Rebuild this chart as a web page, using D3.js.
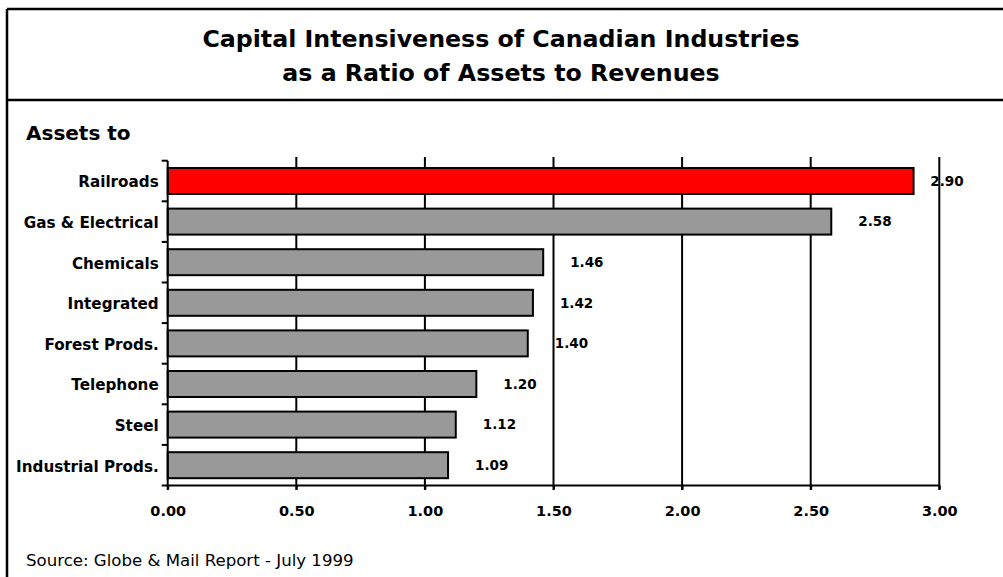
<!DOCTYPE html>
<html>
<head>
<meta charset="utf-8">
<script src="https://cdn.jsdelivr.net/npm/d3@7/dist/d3.min.js"></script>
<style>
  html, body { margin: 0; padding: 0; background: #fff; }
  svg { display: block; }
  text { font-family: Tahoma, "DejaVu Sans", sans-serif; fill: #000; }
</style>
</head>
<body>
<svg id="chart" width="1003" height="577"></svg>
<script>
// Assets-to-revenues ratio by industry (Globe & Mail, July 1999)
const industries = ["Railroads", "Gas & Electrical", "Chemicals", "Integrated",
                    "Forest Prods.", "Telephone", "Steel", "Industrial Prods."];
const ratios = [2.90, 2.58, 1.46, 1.42, 1.40, 1.20, 1.12, 1.09];
const highlight = ["Railroads"];
const xTicks = [0, 0.5, 1.0, 1.5, 2.0, 2.5, 3.0];
const titleLines = ["Capital Intensiveness of Canadian Industries",
                    "as a Ratio of Assets to Revenues"];
const axisCaption = "Assets to";
const sourceNote = "Source: Globe & Mail Report - July 1999";

const W = 1003, H = 577;
const svg = d3.select("#chart");

// frame and title box
const frame = svg.append("g").attr("stroke", "#000").attr("stroke-width", 2.5).attr("fill", "none");
frame.append("line").attr("x1", 7).attr("y1", 9).attr("x2", 7).attr("y2", H);
frame.append("line").attr("x1", 7).attr("y1", 9).attr("x2", W).attr("y2", 9);
frame.append("line").attr("x1", 7).attr("y1", 100).attr("x2", W).attr("y2", 100);

svg.append("g").selectAll("text").data(titleLines).join("text")
  .attr("x", 501).attr("y", (d, i) => 47 + i * 34)
  .attr("text-anchor", "middle")
  .style("font-size", "23.7px").style("font-weight", "bold")
  .text(d => d);

svg.append("text").attr("x", 26).attr("y", 140)
  .style("font-size", "20px").style("font-weight", "bold")
  .text(axisCaption);

svg.append("text").attr("x", 26).attr("y", 566)
  .style("font-size", "16.6px")
  .text(sourceNote);

// plot area
const plotL = 167.7, plotR = 939.3, plotT = 160.7, plotB = 485.5;
const x = d3.scaleLinear().domain([0, 3]).range([plotL, plotR]);
const y = d3.scaleBand().domain(industries).range([plotT, plotB]).padding(0);
const barH = y.bandwidth() * 0.64;

// vertical gridlines, running through the axis as tick marks
svg.append("g").selectAll("line").data(xTicks.filter(t => t > 0)).join("line")
  .attr("x1", d => x(d)).attr("x2", d => x(d))
  .attr("y1", 157).attr("y2", 490)
  .attr("stroke", "#000").attr("stroke-width", 2);

// bars
svg.append("g").selectAll("rect").data(industries).join("rect")
  .attr("x", x(0))
  .attr("y", d => y(d) + (y.bandwidth() - barH) / 2)
  .attr("width", (d, i) => x(ratios[i]) - x(0))
  .attr("height", barH)
  .attr("fill", d => highlight.includes(d) ? "#ff0000" : "#999999")
  .attr("stroke", "#000").attr("stroke-width", 2);

// value labels
svg.append("g").selectAll("text").data(industries).join("text")
  .attr("x", (d, i) => Math.min(x(ratios[i]) + 27, x(3) - 9))
  .attr("y", d => y(d) + y.bandwidth() / 2)
  .attr("dy", "0.36em")
  .style("font-size", "13.5px").style("font-weight", "bold")
  .text((d, i) => ratios[i].toFixed(2));

// y axis with category ticks on band boundaries
const yAxis = svg.append("g").attr("transform", `translate(${plotL},0)`)
  .call(d3.axisLeft(y).tickSize(0).tickPadding(9));
yAxis.select(".domain").remove();
yAxis.selectAll("text")
  .attr("dy", "0.42em")
  .style("font-family", 'Tahoma, "DejaVu Sans", sans-serif')
  .style("font-size", "15.2px").style("font-weight", "bold").attr("fill", "#000");
const bounds = industries.map(d => y(d)).concat([plotB]);
svg.append("g").selectAll("line").data(bounds).join("line")
  .attr("x1", plotL - 6).attr("x2", plotL)
  .attr("y1", d => d).attr("y2", d => d)
  .attr("stroke", "#000").attr("stroke-width", 2);
svg.append("line").attr("x1", plotL).attr("x2", plotL).attr("y1", plotT).attr("y2", 490)
  .attr("stroke", "#000").attr("stroke-width", 2);

// x axis
const xAxis = svg.append("g").attr("transform", `translate(0,${plotB})`)
  .call(d3.axisBottom(x).tickValues(xTicks).tickFormat(d3.format(".2f")).tickSize(4).tickPadding(16));
xAxis.select(".domain").attr("stroke", "#000").attr("stroke-width", 2).attr("d", `M${plotL},0H${plotR}`);
xAxis.selectAll(".tick line").attr("stroke", "#000").attr("stroke-width", 2);
xAxis.selectAll("text")
  .style("font-family", 'Tahoma, "DejaVu Sans", sans-serif')
  .style("font-size", "14.5px").style("font-weight", "bold").attr("fill", "#000");
</script>
</body>
</html>
